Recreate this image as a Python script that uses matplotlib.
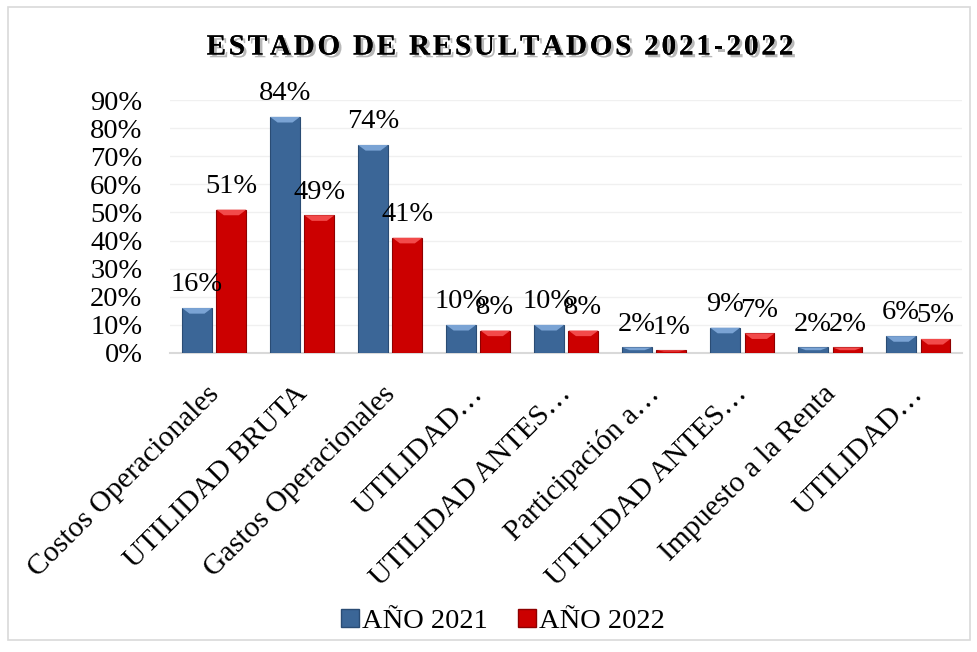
import matplotlib
matplotlib.use("Agg")
import matplotlib.pyplot as plt
import matplotlib.patheffects as pe
from matplotlib.patches import Rectangle
from matplotlib.lines import Line2D
from matplotlib.font_manager import FontProperties
from matplotlib.transforms import ScaledTranslation
import numpy as np

categories = ["Costos Operacionales", "UTILIDAD BRUTA", "Gastos Operacionales",
              "UTILIDAD…", "UTILIDAD ANTES…", "Participación a…",
              "UTILIDAD ANTES…", "Impuesto a la Renta", "UTILIDAD…"]
v2021 = [0.16, 0.84, 0.74, 0.10, 0.10, 0.02, 0.09, 0.02, 0.06]
v2022 = [0.51, 0.49, 0.41, 0.08, 0.08, 0.01, 0.07, 0.02, 0.05]
series_names = ["AÑO 2021", "AÑO 2022"]
yticks = [0, 0.1, 0.2, 0.3, 0.4, 0.5, 0.6, 0.7, 0.8, 0.9]
title = "ESTADO DE RESULTADOS 2021-2022"

BLUE = "#3B6697"
BLUE_EDGE = "#2A4C74"
RED = "#CC0000"
RED_EDGE = "#8E0000"
FS = 20.5

plt.rcParams["font.family"] = ["Liberation Serif", "DejaVu Serif"]

W, H = 978, 652
fig = plt.figure(figsize=(W / 100, H / 100), dpi=100)
fig.patches.append(Rectangle((0.008, 0.018), 0.984, 0.972, transform=fig.transFigure,
                             fill=False, edgecolor="#D9D9D9", linewidth=1.2))

ax = fig.add_axes([0.174, 0.4586, 0.810, 0.388])
x = np.arange(len(categories))
w = 0.34
off = 0.195

b1 = ax.bar(x - off, v2021, width=w, color=BLUE, edgecolor=BLUE_EDGE, linewidth=0.8, zorder=3)
b2 = ax.bar(x + off, v2022, width=w, color=RED, edgecolor=RED_EDGE, linewidth=0.8, zorder=3)

# bevel-like top highlight
for bars, hc in ((b1, "#7AA3D4"), (b2, "#F24A4A")):
    for r in bars:
        h = r.get_height()
        xx = r.get_x()
        ww = r.get_width()
        dh = min(0.02, h * 0.5)
        ax.fill([xx, xx + ww, xx + ww * 0.75, xx + ww * 0.25],
                [h, h, h - dh, h - dh], color=hc, zorder=4, linewidth=0)

for bars, vals in ((b1, v2021), (b2, v2022)):
    for r, v in zip(bars, vals):
        ax.annotate(f"{round(v*100):d}%", (r.get_x() + r.get_width() / 2, v),
                    xytext=(0, 12), textcoords="offset points",
                    ha="center", va="baseline", fontsize=FS, zorder=5)

ax.set_xlim(-0.5, len(categories) - 0.5)
ax.set_ylim(0, 0.9)
ax.set_yticks(yticks)
ax.set_yticklabels([f"{int(round(t*100))}%" for t in yticks], fontsize=FS)
ax.yaxis.grid(True, color="#F0F0F0", linewidth=1, zorder=0)
ax.set_axisbelow(True)
for s in ("top", "right", "left"):
    ax.spines[s].set_visible(False)
ax.spines["bottom"].set_color("#D9D9D9")
ax.spines["bottom"].set_linewidth(1.5)
ax.tick_params(axis="both", length=0)
ax.tick_params(axis="y", pad=20)
ax.set_xticks(x)
ax.set_xticklabels(categories, rotation=45, ha="right", rotation_mode="anchor", fontsize=21.3)
ax.tick_params(axis="x", pad=20)
shift = ScaledTranslation(-8 / 100, 0, fig.dpi_scale_trans)
for lab in ax.get_xticklabels():
    lab.set_transform(lab.get_transform() + shift)

# letter-spaced bold title with shadow
fp = FontProperties(family=["Liberation Serif"], weight="bold", size=21)
renderer = fig.canvas.get_renderer()
spacing = 2.8
widths = [renderer.get_text_width_height_descent(c, fp, ismath=False)[0] for c in title]
space_w = renderer.get_text_width_height_descent("a a", fp, ismath=False)[0] - \
    renderer.get_text_width_height_descent("aa", fp, ismath=False)[0]
widths = [space_w if c == " " else wd for c, wd in zip(title, widths)]
total = sum(widths) + spacing * (len(title) - 1)
cx, cy = 500, 47
px = cx - total / 2
for c, wd in zip(title, widths):
    if c != " ":
        fig.text(px / W, 1 - cy / H, c, ha="left", va="center", fontproperties=fp,
                 path_effects=[pe.withSimplePatchShadow(offset=(2, -2), shadow_rgbFace="#7F7F7F", alpha=0.55),
                               pe.Normal()])
    px += wd + spacing

handles = [Line2D([], [], marker="s", linestyle="none", markersize=13, markerfacecolor=BLUE,
                  markeredgecolor=BLUE_EDGE),
           Line2D([], [], marker="s", linestyle="none", markersize=13, markerfacecolor=RED,
                  markeredgecolor=RED_EDGE)]
fig.legend(handles, series_names, loc="center", bbox_to_anchor=(0.513, 0.0475), ncol=2,
           frameon=False, fontsize=FS, handletextpad=0.0, columnspacing=1.0, handlelength=0.8)

fig.savefig("out.png", dpi=100)
